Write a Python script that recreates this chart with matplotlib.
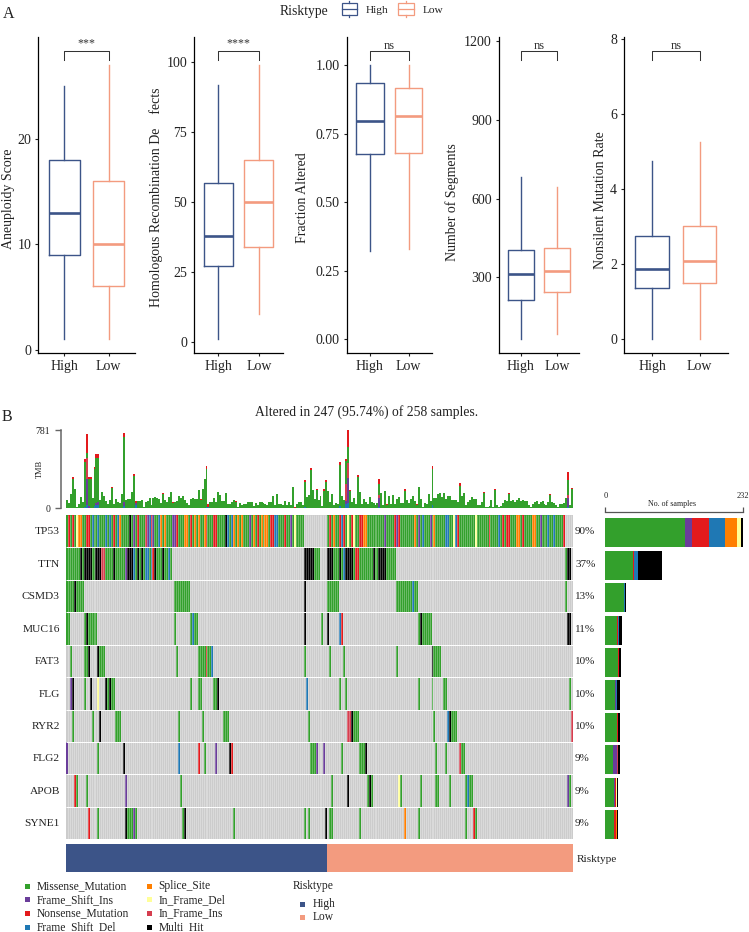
#Boxplots of risk groups + oncoplot
import numpy as np
import matplotlib
matplotlib.use('Agg')
import matplotlib.pyplot as plt
from matplotlib.colors import ListedColormap, BoundaryNorm
from matplotlib.patches import Rectangle

plt.rcParams['font.family'] = ['Liberation Serif', 'DejaVu Serif']

W, H = 749, 932

# ---- panel A : low whisker, q1, median, q3, high whisker
risk_names = ['High', 'Low']
aneuploidy_high = [1, 9, 13, 18, 25]
aneuploidy_low = [1, 6, 10, 16, 27]
hrd_high = [1, 27, 38, 57, 92]
hrd_low = [10, 34, 50, 65, 99]
fraction_high = [0.32, 0.675, 0.795, 0.935, 1.0]
fraction_low = [0.33, 0.68, 0.815, 0.915, 1.0]
segments_high = [65, 212, 313, 403, 684]
segments_low = [83, 243, 324, 412, 646]
nonsilent_high = [0, 1.35, 1.87, 2.73, 4.75]
nonsilent_low = [0, 1.48, 2.08, 3.0, 5.25]

panel_labels = ['Aneuploidy Score', 'Homologous Recombination De    fects', 'Fraction Altered',
                'Number of Segments', 'Nonsilent Mutation Rate']
panel_signif = ['***', '****', 'ns', 'ns', 'ns']
panel_ticks = [[0, 10, 20], [0, 25, 50, 75, 100], [0, 0.25, 0.5, 0.75, 1.0],
               [300, 600, 900, 1200], [0, 2, 4, 6, 8]]
panel_ticklabels = [['0', '10', '20'], ['0', '25', '50', '75', '100'],
                    ['0.00', '0.25', '0.50', '0.75', '1.00'],
                    ['300', '600', '900', '1200'], ['0', '2', '4', '6', '8']]

# ---- panel B
gene_names = ['TP53', 'TTN', 'CSMD3', 'MUC16', 'FAT3', 'FLG', 'RYR2', 'FLG2', 'APOB', 'SYNE1']
gene_percent = ['90%', '37%', '13%', '11%', '10%', '10%', '10%', '9%', '9%', '9%']
n_high = 133
n_low = 125

type_codes = 'MINDSFPH'
type_names = ['Missense_Mutation', 'Frame_Shift_Ins', 'Nonsense_Mutation', 'Frame_Shift_Del',
              'Splice_Site', 'In_Frame_Del', 'In_Frame_Ins', 'Multi_Hit']
type_colors = ['#33A02C', '#6A3D9A', '#E31A1C', '#1F78B4', '#FF7F00', '#FFFF99', '#D53E4F', '#000000']

# one char per sample, . = not altered
tp53_track = ('MNMNMFSSMM' 'NNMDMMDMMM' 'DMDMNMDSMM' 'MMHMIMNMMM' 'PIDNIMMDSM'
              'SMMMIINMMM' 'SSMNMSMSMM' 'SNMMMNNMMM' 'MHDMDSMSMS' 'MMMIMSMNMS'
              'MSSMNNDDMM' 'MNMMIMFMMMM' '............'
              'MNMSMMN' 'DNMFMNFMMN' 'NSSMMMMMMM' 'MMIMMMMNIN' 'MMMMMMMSMI'
              'MDMMMIMSMM' 'MMMDDMMFDN' 'MMMMMMMMFM' 'MMMMMNMMMM' 'DMNMNNMMMS'
              'SMNMMMMSSM' 'MIMMMDMMDM' 'MMMN' '....')

# (first sample, number of samples, type)
ttn_runs = [(0, 7, 'M'), (7, 1, 'H'), (8, 1, 'M'), (9, 4, 'H'), (13, 2, 'M'), (15, 3, 'H'), (18, 2, 'P'),
            (20, 4, 'M'), (24, 1, 'H'), (25, 5, 'M'), (30, 1, 'I'), (31, 3, 'H'), (34, 1, 'D'), (35, 1, 'M'),
            (36, 1, 'H'), (37, 1, 'M'), (38, 1, 'H'), (39, 1, 'M'), (40, 2, 'D'), (42, 1, 'M'), (43, 1, 'D'),
            (44, 1, 'N'), (45, 1, 'H'), (46, 3, 'M'), (49, 1, 'H'), (50, 2, 'M'), (52, 1, 'D'), (53, 1, 'M'),
            (121, 5, 'H'), (126, 3, 'M'), (133, 3, 'H'), (136, 3, 'M'), (139, 1, 'H'), (140, 1, 'M'),
            (141, 1, 'D'), (142, 4, 'H'), (146, 1, 'M'), (147, 2, 'N'), (149, 3, 'M'), (152, 4, 'M'),
            (156, 1, 'H'), (157, 2, 'M'), (159, 4, 'H'), (163, 5, 'M'), (254, 1, 'M'), (255, 2, 'H')]
csmd3_runs = [(0, 4, 'M'), (4, 1, 'H'), (5, 4, 'M'), (55, 8, 'M'), (121, 1, 'H'), (133, 6, 'M'),
              (168, 8, 'M'), (176, 1, 'D'), (177, 2, 'M'), (254, 1, 'M')]
muc16_runs = [(0, 2, 'M'), (9, 1, 'M'), (10, 1, 'H'), (11, 5, 'M'), (55, 1, 'M'), (63, 1, 'M'), (64, 1, 'D'),
              (65, 2, 'M'), (121, 1, 'H'), (130, 1, 'M'), (133, 1, 'H'), (139, 1, 'D'), (140, 1, 'N'),
              (179, 1, 'M'), (180, 1, 'H'), (181, 5, 'M'), (255, 2, 'H')]
fat3_runs = [(2, 1, 'M'), (9, 2, 'M'), (11, 1, 'H'), (16, 1, 'H'), (17, 3, 'M'), (56, 1, 'M'), (67, 4, 'M'),
             (71, 1, 'N'), (72, 2, 'M'), (74, 1, 'D'), (121, 1, 'M'), (134, 1, 'M'), (141, 1, 'M'),
             (168, 1, 'M'), (186, 1, 'H'), (187, 4, 'M')]
flg_runs = [(2, 1, 'I'), (3, 1, 'H'), (9, 1, 'M'), (12, 1, 'H'), (16, 1, 'F'), (20, 1, 'H'), (21, 1, 'M'),
            (22, 1, 'H'), (23, 2, 'M'), (63, 1, 'M'), (67, 2, 'M'), (75, 2, 'M'), (77, 1, 'H'), (122, 1, 'D'),
            (139, 1, 'M'), (142, 1, 'M'), (179, 1, 'M'), (186, 1, 'M'), (192, 2, 'M'), (256, 1, 'M')]
ryr2_runs = [(3, 1, 'M'), (13, 1, 'M'), (17, 1, 'H'), (25, 3, 'M'), (57, 1, 'M'), (69, 1, 'M'), (80, 3, 'M'),
             (123, 1, 'M'), (143, 2, 'P'), (145, 1, 'H'), (146, 3, 'M'), (187, 1, 'M'), (194, 1, 'D'),
             (195, 1, 'H'), (196, 3, 'M'), (257, 1, 'P')]
flg2_runs = [(0, 1, 'I'), (16, 1, 'M'), (29, 1, 'H'), (57, 1, 'D'), (67, 1, 'N'), (70, 1, 'M'), (76, 1, 'I'),
             (83, 1, 'H'), (84, 1, 'N'), (124, 3, 'M'), (127, 1, 'I'), (131, 1, 'I'), (140, 1, 'M'),
             (149, 3, 'M'), (152, 1, 'H'), (188, 1, 'M'), (193, 1, 'M'), (200, 1, 'P'), (201, 2, 'M')]
apob_runs = [(4, 1, 'N'), (5, 1, 'M'), (10, 1, 'M'), (30, 1, 'I'), (58, 1, 'M'), (135, 1, 'M'), (143, 1, 'H'),
             (153, 1, 'M'), (154, 1, 'H'), (155, 1, 'M'), (169, 1, 'F'), (170, 1, 'M'), (180, 1, 'M'),
             (188, 2, 'M'), (195, 1, 'M'), (203, 1, 'M'), (204, 1, 'D'), (205, 2, 'M'), (255, 1, 'I'), (256, 1, 'M')]
syne1_runs = [(11, 1, 'N'), (16, 1, 'M'), (30, 1, 'H'), (31, 3, 'M'), (34, 1, 'I'), (35, 1, 'M'), (59, 1, 'M'),
              (60, 1, 'H'), (85, 1, 'M'), (121, 1, 'M'), (123, 1, 'M'), (132, 1, 'H'), (134, 2, 'M'),
              (149, 1, 'M'), (172, 1, 'S'), (179, 1, 'M'), (203, 1, 'M'), (207, 1, 'N'), (208, 1, 'M')]

# TMB per sample
tmb_total = [84, 50, 140, 317, 190, 10, 40, 117, 67, 494, 741, 310, 317, 100, 410, 544, 544, 84, 160, 127,
             73, 40, 84, 217, 40, 94, 60, 50, 140, 751, 84, 94, 94, 167, 340, 73, 73, 73, 84, 15,
             67, 73, 107, 33, 107, 113, 107, 94, 50,
             154, 84, 67, 117, 167, 67, 67, 73, 124, 107, 127,
             84, 50, 33, 94, 107, 94, 94, 180, 94, 194,
             290, 418, 40, 60, 60, 107, 67, 160, 134, 73,
             73, 150, 47, 47, 60, 87, 73, 15, 50, 33, 40,
             40, 60, 60, 60, 27, 53, 33, 67, 67, 57,
             47, 33, 60, 60, 127, 33, 140, 47, 40, 33,
             73, 33, 60, 33, 210, 10, 47, 60, 60, 33,
             284, 117, 134, 407, 184, 94, 194, 84,
             120, 20, 190, 284, 177, 60, 140, 33, 53, 40, 460, 124, 84, 490, 781, 184, 60, 107, 47, 334,
             160, 40, 94, 60, 40, 113, 60, 57, 33, 50, 294, 150, 33, 177, 47, 127, 47, 134, 47, 94,
             117, 53, 53, 190, 84, 50, 94, 120, 73, 40, 210, 94, 17, 53, 40, 144, 73, 420, 107, 100,
             144, 157, 113, 150, 94, 127, 127, 80, 80, 80, 60, 250, 127, 150, 33, 60, 84, 113, 94, 94,
             33, 33, 60, 167, 17, 17, 27, 80, 17, 190, 33, 17, 23, 50, 84, 73, 157, 73, 84, 60,
             84, 107, 73, 84, 73, 73, 30, 17, 40, 60, 73, 40, 60, 73, 40, 33, 60, 144, 60, 50,
             33, 17, 40, 40, 50, 100, 360, 33, 207]
tmb_nonsense = {3: 27, 9: 27, 10: 190, 11: 20, 12: 20, 14: 20, 15: 37, 16: 37, 23: 12, 29: 43, 34: 12, 35: 23,
                49: 10, 54: 10, 68: 10, 71: 23, 72: 25, 86: 10, 116: 12, 121: 20, 124: 25, 127: 12,
                131: 12, 132: 17, 139: 23, 142: 20, 143: 165, 144: 10, 148: 20, 159: 50, 163: 10, 172: 12,
                178: 10, 186: 23, 200: 25, 212: 10, 218: 10, 225: 12, 246: 10, 255: 80, 257: 10}
tmb_del = {9: 15, 10: 30, 14: 20, 15: 30, 16: 30, 29: 20, 35: 30, 71: 15, 72: 20, 121: 15, 139: 25, 142: 40,
           143: 50, 159: 15, 186: 30, 255: 15}
tmb_ins = {10: 260, 11: 20, 15: 25, 16: 30, 29: 40, 35: 25, 143: 250, 142: 30, 159: 90, 255: 90}
tmb_inframe = {10: 210, 143: 150, 142: 170, 159: 30, 255: 30}

# No. of samples per gene and mutation type, same order as type_names
bar_missense = [134, 46, 31, 19, 21, 17, 19, 13, 14, 14]
bar_ins = [11, 0, 0, 0, 0, 1, 0, 6, 3, 0]
bar_nonsense = [30, 2, 0, 2, 2, 0, 3, 1, 1, 4]
bar_del = [27, 7, 2, 2, 0, 1, 0, 0, 0, 0]
bar_splice = [20, 0, 0, 0, 0, 0, 0, 0, 0, 1]
bar_inframe_del = [6, 0, 0, 0, 0, 0, 0, 0, 1, 0]
bar_inframe_ins = [0, 0, 0, 0, 0, 0, 0, 1, 0, 0]
bar_multi = [4, 41, 2, 5, 3, 6, 3, 3, 3, 3]

color_high = '#3C5488'
color_low = '#F39B7F'
text_color = '#222222'


def px_axes(left, top, right, bottom, **kw):
    return fig.add_axes([left / W, 1 - bottom / H, (right - left) / W, (bottom - top) / H], **kw)


fig = plt.figure(figsize=(W / 100, H / 100), dpi=100)

# overlay in pixel coordinates, only for texts and legend keys
ov = fig.add_axes([0, 0, 1, 1], zorder=5)
ov.set_xlim(0, W)
ov.set_ylim(H, 0)
ov.axis('off')

# ---------- panel A
panels = [(aneuploidy_high, aneuploidy_low), (hrd_high, hrd_low), (fraction_high, fraction_low),
          (segments_high, segments_low), (nonsilent_high, nonsilent_low)]
panel_x = [(38, 135), (194, 283), (346.7, 431.7), (498.7, 579.3), (623.7, 728)]
panel_ylim = [(-0.33, 29.7), (-3.93, 109), (-0.051, 1.103), (11.4, 1216), (-0.373, 8.04)]
label_pos = [(9, 199), (156, 197), (303, 198), (452.5, 201.7), (601, 200)]

for i, (high, low) in enumerate(panels):
    ax = px_axes(panel_x[i][0], 37, panel_x[i][1], 353)
    for pos, vals, col in [(1, high, color_high), (2, low, color_low)]:
        stats = [dict(whislo=vals[0], q1=vals[1], med=vals[2], q3=vals[3], whishi=vals[4], fliers=[])]
        ax.bxp(stats, positions=[pos], widths=0.71, showcaps=False, showfliers=False, manage_ticks=False,
               boxprops=dict(color=col, linewidth=1.0), whiskerprops=dict(color=col, linewidth=1.0),
               medianprops=dict(color=col, linewidth=1.9, solid_capstyle='butt'))
    ax.set_xlim(0.4, 2.6)
    ax.set_ylim(*panel_ylim[i])
    ax.set_xticks([1, 2])
    ax.set_xticklabels(risk_names)
    ax.set_yticks(panel_ticks[i])
    ax.set_yticklabels(panel_ticklabels[i])
    ax.tick_params(labelsize=10, length=2.4, width=0.8, color='#222222', labelcolor=text_color, pad=2.5)
    ax.spines['top'].set_visible(False)
    ax.spines['right'].set_visible(False)
    ax.spines['left'].set_linewidth(0.9)
    ax.spines['bottom'].set_linewidth(0.9)
    ax.patch.set_alpha(0)
    # significance bracket
    tr = ax.get_xaxis_transform()
    ax.plot([1, 1, 2, 2], [0.928, 0.955, 0.955, 0.928], color='#333333', lw=0.75, transform=tr, clip_on=False)
    star_y = 0.979 if panel_signif[i] != 'ns' else 0.973
    ax.text(1.5, star_y, panel_signif[i], transform=tr, ha='center', va='center',
            fontsize=8.6 if panel_signif[i] != 'ns' else 9, color='#333333')
    ov.text(label_pos[i][0], label_pos[i][1], panel_labels[i], rotation=90, ha='center', va='center',
            fontsize=10, color=text_color)

ov.text(3, 14, 'A', fontsize=11.5, ha='left', va='center', color=text_color)
ov.text(2, 417, 'B', fontsize=11.5, ha='left', va='center', color=text_color)

# top legend
ov.text(280, 11, 'Risktype', fontsize=9.8, ha='left', va='center', color=text_color)
for x0, col, name, tx in [(341.7, color_high, 'High', 366), (398.3, color_low, 'Low', 423)]:
    ov.add_patch(Rectangle((x0, 3.3), 15.5, 11.4, fc='white', ec=col, lw=0.9))
    ov.plot([x0, x0 + 15.5], [9, 9], color=col, lw=0.9)
    ov.plot([x0 + 7.75, x0 + 7.75], [1, 3.3], color=col, lw=0.9)
    ov.plot([x0 + 7.75, x0 + 7.75], [14.7, 16.7], color=col, lw=0.9)
    ov.text(tx, 10.5, name, fontsize=8.2, ha='left', va='center', color=text_color)

# ---------- panel B
ov.text(367, 412, 'Altered in 247 (95.74%) of 258 samples.', fontsize=9.8, ha='center', va='center',
        color=text_color)

n_samples = n_high + n_low
assert len(tmb_total) == n_samples, len(tmb_total)
assert len(tp53_track) == n_samples, len(tp53_track)

# TMB bars
ax = px_axes(66, 430, 573, 508.5)
sample_x = np.arange(n_samples) + 0.5
bottom = np.zeros(n_samples)
total = np.array(tmb_total, dtype=float)
for part, col in [(tmb_del, type_colors[3]), (tmb_ins, type_colors[1]), (tmb_inframe, type_colors[6])]:
    vals = np.array([part.get(k, 0) for k in range(n_samples)], dtype=float)
    ax.bar(sample_x, vals, bottom=bottom, width=1.0, color=col, lw=0)
    bottom += vals
nons = np.array([tmb_nonsense.get(k, 0) for k in range(n_samples)], dtype=float)
ax.bar(sample_x, total - bottom - nons, bottom=bottom, width=1.0, color=type_colors[0], lw=0)
ax.bar(sample_x, nons, bottom=total - nons, width=1.0, color=type_colors[2], lw=0)
ax.set_xlim(0, n_samples)
ax.set_ylim(0, 781)
ax.set_xticks([])
ax.set_yticks([0, 781])
ax.set_yticklabels(['0', '781'])
ax.tick_params(axis='y', labelsize=7, length=4.3, width=1.0, color='#666666', labelcolor=text_color, pad=3.5)
for s in ['top', 'right', 'bottom']:
    ax.spines[s].set_visible(False)
ax.spines['left'].set_position(('outward', 3.6))
ax.spines['left'].set_linewidth(1.1)
ax.spines['left'].set_color('#666666')
ax.patch.set_alpha(0)
ov.text(40, 469, 'TMB', rotation=90, fontsize=6, ha='center', va='center', color=text_color)

# oncoplot matrix, 0 = not altered
matrix = np.zeros((len(gene_names), n_samples))
for k, c in enumerate(tp53_track):
    if c != '.':
        matrix[0, k] = type_codes.index(c) + 1
gene_runs = [ttn_runs, csmd3_runs, muc16_runs, fat3_runs, flg_runs, ryr2_runs, flg2_runs, apob_runs, syne1_runs]
for row, runs in enumerate(gene_runs, start=1):
    for start, length, code in runs:
        matrix[row, start:start + length] = type_codes.index(code) + 1

cmap = ListedColormap(['#CCCCCC'] + type_colors)
norm = BoundaryNorm(np.arange(-0.5, 9.5), cmap.N)
ax = px_axes(66, 515, 573, 839.3)
ax.pcolormesh(np.arange(n_samples + 1), np.arange(len(gene_names) + 1), matrix, cmap=cmap, norm=norm)
# faint column lines, as in the oncoplot
ax.vlines(np.arange(1, n_samples), 0, len(gene_names), color='white', lw=0.4, alpha=0.5)
ax.hlines(np.arange(1, len(gene_names)), 0, n_samples, color='white', lw=0.7)
ax.set_xlim(0, n_samples)
ax.set_ylim(len(gene_names), 0)
ax.axis('off')

row_h = (839.3 - 515) / len(gene_names)
for i, name in enumerate(gene_names):
    yc = 515 + row_h * (i + 0.5) + 0.7
    ov.text(60, yc, name, fontsize=8.2, ha='right', va='center', color=text_color)
    ov.text(575, yc, gene_percent[i], fontsize=8, ha='left', va='center', color=text_color)

# risk annotation strip
ax = px_axes(66, 844.3, 573, 872.3)
risk_codes = np.array([0] * n_high + [1] * n_low).reshape(1, -1)
ax.pcolormesh(np.arange(n_samples + 1), [0, 1], risk_codes, cmap=ListedColormap([color_high, color_low]),
              vmin=0, vmax=1)
ax.axis('off')
ov.text(577, 859.5, 'Risktype', fontsize=8.1, ha='left', va='center', color=text_color)

# samples per gene
ax = px_axes(605.3, 515, 743.3, 839.3)
y_pos = np.arange(len(gene_names)) + 0.55
left = np.zeros(len(gene_names))
bar_parts = [bar_missense, bar_ins, bar_nonsense, bar_del, bar_splice, bar_inframe_del, bar_inframe_ins, bar_multi]
for vals, col in zip(bar_parts, type_colors):
    ax.barh(y_pos, vals, left=left, height=0.9, color=col, lw=0)
    left += np.array(vals)
ax.set_xlim(0, 232)
ax.set_ylim(len(gene_names), 0)
ax.set_yticks([])
ax.xaxis.tick_top()
ax.set_xticks([0, 232])
ax.set_xticklabels(['0', '232'])
ax.tick_params(axis='x', labelsize=6, length=3.6, width=0.9, color='#555555', labelcolor=text_color, pad=4.5)
for s in ['left', 'right', 'bottom']:
    ax.spines[s].set_visible(False)
ax.spines['top'].set_position(('outward', 2.4))
ax.spines['top'].set_color('#555555')
ax.spines['top'].set_linewidth(0.9)
ax.patch.set_alpha(0)
ov.text(671.7, 504, 'No. of samples', fontsize=5.8, ha='center', va='center', color=text_color)

# bottom legends
legend_y = [886, 899.7, 913.3, 927]
for i, (name, col) in enumerate(zip(type_names, type_colors)):
    col_x = 25 if i < 4 else 146.5
    tx = 36.7 if i < 4 else 158.3
    y = legend_y[i % 4]
    ov.add_patch(Rectangle((col_x, y - 2.5), 5, 5, fc=col, ec='none'))
    ov.text(tx, y, name, fontsize=8.3, ha='left', va='center', color=text_color)

ov.text(292.3, 886, 'Risktype', fontsize=8.3, ha='left', va='center', color=text_color)
for y, col, name in [(904, color_high, 'High'), (917.3, color_low, 'Low')]:
    ov.add_patch(Rectangle((300.2, y - 2.5), 5, 5, fc=col, ec='none'))
    ov.text(312.3, y, name, fontsize=8.3, ha='left', va='center', color=text_color)

fig.savefig('out.png', dpi=100)
